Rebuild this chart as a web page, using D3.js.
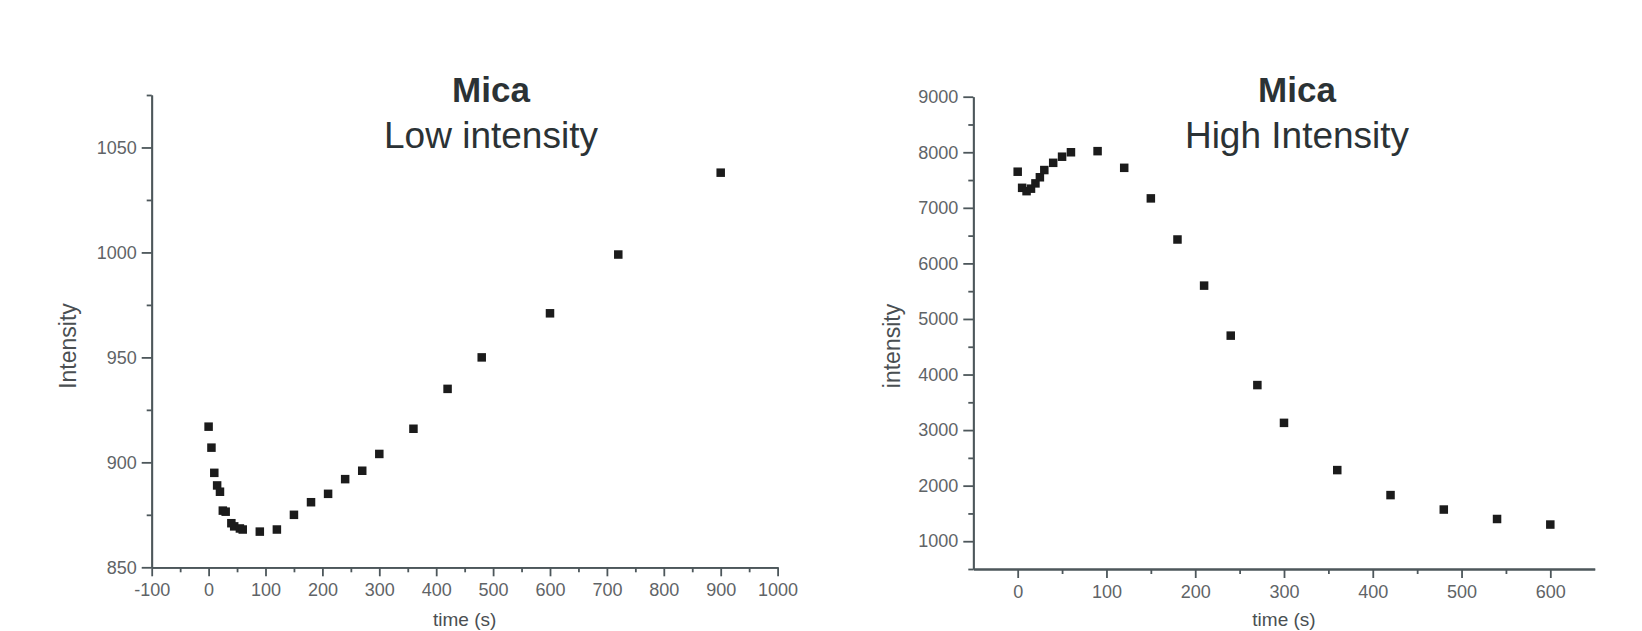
<!DOCTYPE html>
<html>
<head>
<meta charset="utf-8">
<script src="https://cdn.jsdelivr.net/npm/d3@7"></script>
<style>
  body { margin: 0; background: #fff; }
  svg { display: block; font-family: "Liberation Sans", Arial, sans-serif; }
  .axis path, .axis line { stroke: #4d575b; stroke-width: 1.8; }
  .axis text { fill: #5f6467; font-size: 18px; }
</style>
</head>
<body>
<div id="chart"></div>
<script>
// low intensity panel
const lowTime = [0, 5, 10, 15, 20, 25, 30, 40, 45, 55, 60, 90, 120, 150, 180, 210, 240, 270, 300, 360, 420, 480, 600, 720, 900];
const lowIntensity = [917, 907, 895, 889, 886, 877, 876.5, 871, 869.5, 868.5, 868, 867, 868, 875, 881, 885, 892, 896, 904, 916, 935, 950, 971, 999, 1038];
const lowXTicks = [-100, 0, 100, 200, 300, 400, 500, 600, 700, 800, 900, 1000];
const lowYTicks = [850, 900, 950, 1000, 1050];

// high intensity panel
const highTime = [0, 5, 10, 15, 20, 25, 30, 40, 50, 60, 90, 120, 150, 180, 210, 240, 270, 300, 360, 420, 480, 540, 600];
const highIntensity = [7650, 7360, 7300, 7345, 7440, 7550, 7680, 7810, 7920, 8000, 8020, 7720, 7170, 6430, 5600, 4700, 3810, 3130, 2280, 1830, 1570, 1400, 1300];
const highXTicks = [0, 100, 200, 300, 400, 500, 600];
const highYTicks = [1000, 2000, 3000, 4000, 5000, 6000, 7000, 8000, 9000];

const width = 1642;
const height = 631;

const svg = d3.select('#chart')
    .append('svg')
    .attr('width', width)
    .attr('height', height);

// plain hyphen for negatives, like the original
const fmt = d => String(d);

function panel(opt) {
    const x = d3.scaleLinear().domain(opt.xDomain).range(opt.xRange);
    const y = d3.scaleLinear().domain(opt.yDomain).range(opt.yRange);
    const g = svg.append('g');
    const x0 = opt.xRange[0], y0 = opt.yRange[0];

    // minor ticks first, then major ticks on top
    g.append('g').attr('class', 'axis')
        .attr('transform', `translate(0,${y0})`)
        .call(d3.axisBottom(x).tickValues(opt.xMinor).tickSize(5).tickSizeOuter(0).tickFormat(''));
    g.append('g').attr('class', 'axis')
        .attr('transform', `translate(0,${y0})`)
        .call(d3.axisBottom(x).tickValues(opt.xTicks).tickSize(9).tickSizeOuter(0).tickPadding(7).tickFormat(fmt));

    g.append('g').attr('class', 'axis')
        .attr('transform', `translate(${x0},0)`)
        .call(d3.axisLeft(y).tickValues(opt.yMinor).tickSize(5).tickSizeOuter(0).tickFormat(''));
    g.append('g').attr('class', 'axis')
        .attr('transform', `translate(${x0},0)`)
        .call(d3.axisLeft(y).tickValues(opt.yTicks).tickSize(10).tickSizeOuter(0).tickPadding(5).tickFormat(fmt));

    const s = 8.5;
    g.selectAll('rect.pt')
        .data(opt.t.map((t, i) => [t, opt.v[i]]))
        .enter()
        .append('rect')
        .attr('class', 'pt')
        .attr('x', d => x(d[0]) - s / 2)
        .attr('y', d => y(d[1]) - s / 2)
        .attr('width', s)
        .attr('height', s)
        .attr('fill', '#1b1b1b');

    g.append('text')
        .attr('x', opt.titleX).attr('y', 102)
        .attr('text-anchor', 'middle')
        .attr('font-size', 35).attr('font-weight', 'bold')
        .attr('fill', '#2b3235')
        .text('Mica');
    g.append('text')
        .attr('x', opt.titleX).attr('y', 148)
        .attr('text-anchor', 'middle')
        .attr('font-size', 37)
        .attr('fill', '#2b3235')
        .text(opt.subtitle);

    g.append('text')
        .attr('x', (opt.xRange[0] + opt.xRange[1]) / 2).attr('y', 626)
        .attr('text-anchor', 'middle')
        .attr('font-size', 19)
        .attr('fill', '#4a4f52')
        .text('time (s)');

    g.append('text')
        .attr('transform', `translate(${opt.yLabelX},346) rotate(-90)`)
        .attr('text-anchor', 'middle')
        .attr('font-size', 23)
        .attr('fill', '#4a4f52')
        .text(opt.yLabel);
}

panel({
    t: lowTime, v: lowIntensity,
    xDomain: [-100, 1000], xRange: [151.7, 777.6],
    yDomain: [850, 1075], yRange: [567.3, 95],
    xTicks: lowXTicks, xMinor: d3.range(-50, 1000, 100),
    yTicks: lowYTicks, yMinor: [875, 925, 975, 1025, 1075],
    titleX: 491, subtitle: 'Low intensity',
    yLabel: 'Intensity', yLabelX: 76
});

panel({
    t: highTime, v: highIntensity,
    xDomain: [-50, 650], xRange: [973.3, 1594.7],
    yDomain: [500, 9000], yRange: [569, 96.7],
    xTicks: highXTicks, xMinor: d3.range(50, 650, 100),
    yTicks: highYTicks, yMinor: d3.range(500, 9000, 1000),
    titleX: 1297, subtitle: 'High Intensity',
    yLabel: 'intensity', yLabelX: 900
});
</script>
</body>
</html>
